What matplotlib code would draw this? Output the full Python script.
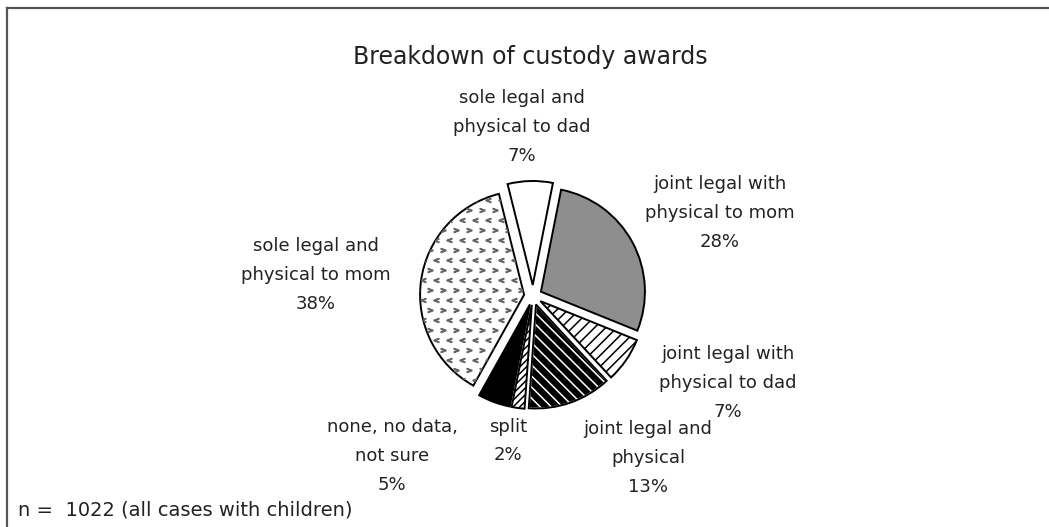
import matplotlib
matplotlib.use("Agg")
import matplotlib.pyplot as plt
from matplotlib.patches import Wedge
import numpy as np

W, H = 1049, 527

# custody award breakdown, clockwise from the top
categories = [
    "sole legal and\nphysical to dad",
    "joint legal with\nphysical to mom",
    "joint legal with\nphysical to dad",
    "joint legal and\nphysical",
    "split",
    "none, no data,\nnot sure",
    "sole legal and\nphysical to mom",
]
shares = [7, 28, 7, 13, 2, 5, 38]
n_cases = 1022

title = "Breakdown of custody awards"
footer = f"n =  {n_cases} (all cases with children)"

# label anchors in pixels from the top left corner
label_xy = [(522, 127), (720, 213), (728, 383), (648, 458),
            (508, 441), (392, 456), (316, 275)]
explode = [11, 9, 9, 9, 9, 9, 9]
pie_center = (533, 296)
pie_radius = 104

plt.rcParams["font.family"] = "DejaVu Sans"
plt.rcParams["hatch.linewidth"] = 1.1

fig = plt.figure(figsize=(W / 100, H / 100), dpi=100)
ax = fig.add_axes([0, 0, 1, 1])

wedges, _ = ax.pie(shares, center=(pie_center[0], H - pie_center[1]),
                   radius=pie_radius, startangle=104, counterclock=False,
                   explode=explode, frame=True,
                   wedgeprops=dict(edgecolor="black", linewidth=1.4))

# fills / hatches per slice
wedges[0].set_facecolor("white")
wedges[1].set_facecolor("#8e8e8e")
wedges[2].set_facecolor("white")
wedges[2].set_hatch("///")
wedges[3].set_facecolor("black")
wedges[3].set_edgecolor("white")
wedges[3].set_hatch("\\\\\\")
wedges[4].set_facecolor("white")
wedges[4].set_hatch("/////")
wedges[5].set_facecolor("black")
wedges[6].set_facecolor("white")

# black outline over the white-hatched slice
w3 = wedges[3]
ax.add_patch(Wedge(w3.center, w3.r, w3.theta1, w3.theta2, fill=False,
                   edgecolor="black", linewidth=1.4, zorder=w3.get_zorder() + 0.1))

# chevron texture on the large slice
w6 = wedges[6]
xs = np.arange(410, 540, 13)
ys = np.arange(180, 420, 10)
for i, yy in enumerate(ys):
    off = 6.5 if i % 2 else 0
    mk = r"$>$" if i % 2 else r"$<$"
    ln, = ax.plot(xs + off, np.full_like(xs, H - yy, dtype=float), ls="none",
                  marker=mk, ms=3.5, color="0.4", zorder=3)
    ln.set_clip_path(w6)

for (x, y), cat, v in zip(label_xy, categories, shares):
    ax.text(x, H - y, f"{cat}\n{v}%", ha="center", va="center",
            ma="center", fontsize=13, linespacing=1.78, color="#222222")

ax.text(530, H - 57, title, ha="center", va="center", fontsize=17, color="#222222")
ax.text(18, H - 510, footer, ha="left", va="center", fontsize=14, color="#222222")

# outer frame, top and left edges
ax.plot([7, 7], [0, H - 8], color="#555555", lw=1.6)
ax.plot([7, W], [H - 8, H - 8], color="#555555", lw=1.6)

ax.set_xlim(0, W)
ax.set_ylim(0, H)
ax.set_axis_off()

fig.savefig("out.png", dpi=100)
